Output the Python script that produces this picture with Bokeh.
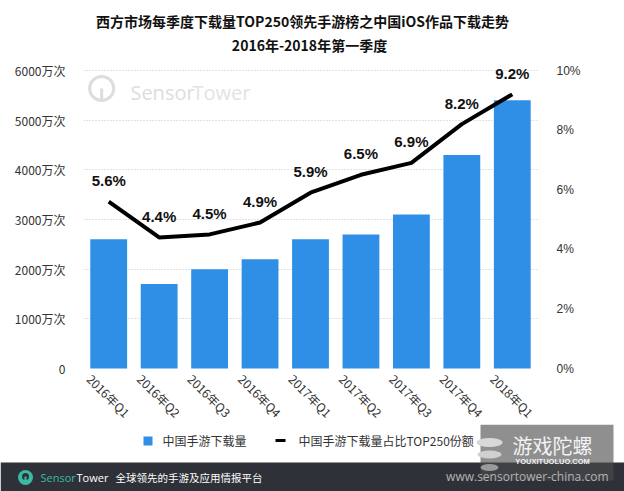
import math
from bokeh.plotting import figure
from bokeh.models import (ColumnDataSource, Range1d, LinearAxis, FixedTicker, LabelSet)
from bokeh.layouts import column
from bokeh.embed import file_html
from bokeh.resources import INLINE
from bokeh.core.properties import value

# ---------------- data ----------------
quarters = ["2016年Q1", "2016年Q2", "2016年Q3", "2016年Q4", "2017年Q1",
            "2017年Q2", "2017年Q3", "2017年Q4", "2018年Q1"]
downloads = [2600, 1700, 2000, 2200, 2600, 2700, 3100, 4300, 5400]   # 万次
share_pct = [5.6, 4.4, 4.5, 4.9, 5.9, 6.5, 6.9, 8.2, 9.2]            # %
share_labels = ["5.6%", "4.4%", "4.5%", "4.9%", "5.9%", "6.5%", "6.9%", "8.2%", "9.2%"]
left_ticks = [0, 1000, 2000, 3000, 4000, 5000, 6000]
left_tick_labels = ["0", "1000万次", "2000万次", "3000万次", "4000万次", "5000万次", "6000万次"]
right_ticks = [0, 2, 4, 6, 8, 10]
right_tick_labels = ["0%", "2%", "4%", "6%", "8%", "10%"]
title_lines = ["西方市场每季度下载量TOP250领先手游榜之中国iOS作品下载走势", "2016年-2018年第一季度"]
legend_labels = ["中国手游下载量", "中国手游下载量占比TOP250份额"]
footer_slogan = "全球领先的手游及应用情报平台"
footer_url = "www.sensortower-china.com"

CJK = "Noto Sans CJK SC"
LAT = "Liberation Sans"
BAR = "#2f8fe6"
TXT = "#333333"
DARK = "#2e3238"
TEAL = "#3cb9a3"
W = 624


def blank(fig):
    fig.axis.visible = False
    fig.grid.visible = False
    fig.outline_line_color = None
    return fig


xi = list(range(len(quarters)))
src = ColumnDataSource(dict(x=xi, q=quarters, d=downloads, s=share_pct, sl=share_labels))

# ---------------- title ----------------
t = blank(figure(width=W, height=60, x_range=Range1d(0, W), y_range=Range1d(0, 60),
                 output_backend="svg", toolbar_location=None, min_border=0, frame_align=False))
t.text(x=[302, 309], y=[40, 16], text=title_lines, text_align="center",
       text_baseline="middle", text_font=value(CJK), text_font_style="bold",
       text_font_size="14px", text_color="#111111")

# ---------------- main chart ----------------
# frame: 454 x 364 px; 6000 sits 10 px below the top, 0 sits 56 px above the bottom
p = figure(width=W, height=364, x_range=Range1d(-0.5, len(quarters) - 0.5),
           y_range=Range1d(-1127.5, 6201.3),
           output_backend="svg", toolbar_location=None, frame_align=False,
           min_border_left=83, min_border_right=87, min_border_top=0, min_border_bottom=0)
p.outline_line_color = None
p.extra_y_ranges = {"pct": Range1d(-1.879, 10.336)}

# faint SensorTower watermark
WM = "#dddddd"
p.scatter(x=[-0.14], y=[5640], marker="circle", size=24, fill_color=None,
          line_color=WM, line_width=3)
p.segment(x0=[-0.14], y0=[5640], x1=[-0.14], y1=[5400], line_color=WM, line_width=3)
p.text(x=[0.43], y=[5560], text=["Sensor"], text_font=value("Open Sans"),
       text_font_size="20px", text_color=WM, text_baseline="middle")
p.text(x=[1.66], y=[5560], text=["Tower"], text_font=value("Open Sans"),
       text_font_size="20px", text_color="#e3e3e3", text_baseline="middle")

bars = p.vbar(x="x", top="d", width=0.73, source=src, fill_color=BAR, line_color=None)
line = p.line(x="x", y="s", source=src, y_range_name="pct", line_color="black",
              line_width=4, line_join="round")

p.xaxis.visible = False
p.xgrid.visible = False
p.ygrid.ticker = FixedTicker(ticks=left_ticks[1:])
p.ygrid.grid_line_color = "#c4c4c4"
p.ygrid.grid_line_dash = "1 2"

ya = p.yaxis[0]
ya.ticker = FixedTicker(ticks=left_ticks)
ya.major_label_overrides = dict(zip(left_ticks, left_tick_labels))
ya.axis_line_color = None
ya.major_tick_line_color = None
ya.minor_tick_line_color = None
ya.major_label_standoff = 12
ya.major_label_text_font = CJK
ya.major_label_text_font_size = "12px"
ya.major_label_text_color = TXT

ra = LinearAxis(y_range_name="pct", ticker=FixedTicker(ticks=right_ticks))
ra.major_label_overrides = dict(zip(right_ticks, right_tick_labels))
ra.axis_line_color = None
ra.major_tick_line_color = None
ra.minor_tick_line_color = None
ra.major_label_standoff = 13
ra.major_label_text_font = LAT
ra.major_label_text_font_size = "12px"
ra.major_label_text_color = TXT
p.add_layout(ra, "right")

# category labels (rotated, centred under each bar)
p.add_layout(LabelSet(x="x", y=0, text="q", source=src, y_offset=-27, angle=-math.pi / 4,
                      text_align="center", text_baseline="middle", text_font=value(CJK),
                      text_font_size="12px", text_color=TXT))
# share labels above the line
p.add_layout(LabelSet(x="x", y="s", text="sl", source=src, y_range_name="pct", y_offset=21,
                      text_align="center", text_baseline="middle", text_font=value(LAT),
                      text_font_style="bold", text_font_size="15px", text_color="#111111"))

# ---------------- legend + footer ----------------
H = 67
f = blank(figure(width=W, height=H, x_range=Range1d(0, W), y_range=Range1d(0, H),
                 output_backend="svg", toolbar_location=None, min_border=0, frame_align=False))
# legend
f.quad(left=[143], right=[152], bottom=[46], top=[55], fill_color=BAR, line_color=None)
f.text(x=[162], y=[51], text=[legend_labels[0]], text_font=value(CJK), text_font_size="12px",
       text_color=TXT, text_baseline="middle")
f.segment(x0=[275], y0=[51], x1=[285], y1=[51], line_color="black", line_width=3)
f.text(x=[298], y=[51], text=[legend_labels[1]], text_font=value(CJK), text_font_size="12px",
       text_color=TXT, text_baseline="middle")

# dark footer band
f.quad(left=[0], right=[W], bottom=[0], top=[29], fill_color=DARK, line_color=None)
f.circle(x=[25], y=[14], radius=7.5, fill_color=TEAL, line_color=None)
f.circle(x=[25], y=[15], radius=3.5, fill_color=DARK, line_color=None)
f.segment(x0=[25], y0=[15], x1=[25], y1=[8], line_color=TEAL, line_width=2)
f.text(x=[40], y=[14], text=["Sensor"], text_font=value("Open Sans"), text_font_size="11px",
       text_color=TEAL, text_baseline="middle")
f.text(x=[76], y=[14], text=["Tower"], text_font=value("Open Sans"), text_font_size="11px",
       text_color="#ffffff", text_baseline="middle")
f.text(x=[115], y=[14], text=[footer_slogan], text_font=value(CJK), text_font_size="10.5px",
       text_color="#ffffff", text_baseline="middle")

# 游戏陀螺 watermark box
f.quad(left=[480], right=[613], bottom=[29], top=[H], fill_color="#8f8f8f", line_color=None)
f.quad(left=[480], right=[613], bottom=[11], top=[29], fill_color="#3f4145", line_color=None)
f.ellipse(x=[489], y=[49], width=26, height=9, fill_color="#d8d8d8", line_color=None)
f.ellipse(x=[489], y=[37], width=24, height=8, fill_color="#d0d0d0", line_color=None)
f.ellipse(x=[489], y=[24], width=18, height=7, fill_color="#9a9a9a", line_color=None)
f.text(x=[552], y=[46], text=["游戏陀螺"], text_font=value(CJK), text_font_size="20px",
       text_color="#f2f2f2", text_baseline="middle", text_align="center")
f.text(x=[552], y=[30], text=["YOUXITUOLUO.COM"], text_font=value(LAT), text_font_size="7.5px",
       text_font_style="bold", text_color="#f2f2f2", text_baseline="middle", text_align="center")

f.text(x=[608], y=[15], text=[footer_url], text_font=value("Open Sans"), text_font_size="12px",
       text_color="#b3b3b3", text_baseline="middle", text_align="right")

layout = column(t, p, f, spacing=0)
open("out.html", "w").write(file_html(layout, INLINE))
